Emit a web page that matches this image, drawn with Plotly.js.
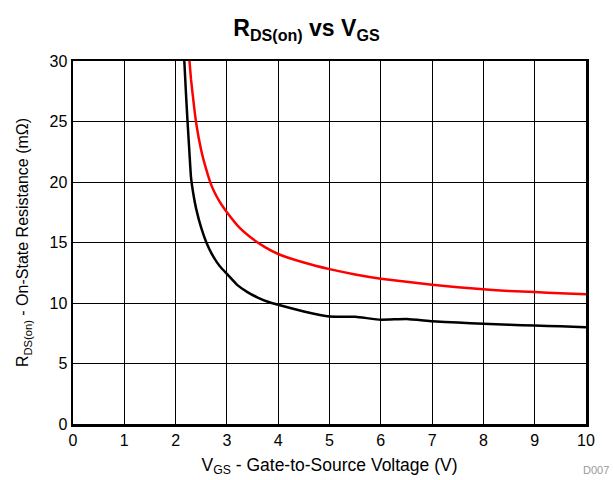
<!DOCTYPE html>
<html>
<head>
<meta charset="utf-8">
<script src="https://cdn.plot.ly/plotly-3.0.1.min.js"></script>
<style>html,body{margin:0;padding:0;background:#fff;}#chart{width:613px;height:480px;}</style>
</head>
<body>
<div id="chart"></div>
<script>
// Black curve (lower)
const vgsLow = [2.17, 2.2, 2.23, 2.27, 2.3, 2.35, 2.4, 2.5, 2.6, 2.7, 2.8, 2.9, 3.0, 3.2, 3.4, 3.6, 3.8, 4.0, 4.5, 5.0, 5.5, 6.0, 6.5, 7.0, 7.5, 8.0, 8.5, 9.0, 9.5, 10];
const rdsLow = [30, 27.5, 25.2, 22.4, 20.4, 18.9, 17.8, 16.2, 15.0, 14.1, 13.4, 12.85, 12.4, 11.5, 10.9, 10.45, 10.1, 9.85, 9.3, 8.88, 8.86, 8.62, 8.68, 8.5, 8.38, 8.28, 8.2, 8.14, 8.07, 8.0];
// Red curve (upper)
const vgsHigh = [2.27, 2.3, 2.35, 2.4, 2.5, 2.6, 2.7, 2.8, 2.9, 3.0, 3.25, 3.5, 3.75, 4.0, 4.5, 5.0, 5.5, 6.0, 6.5, 7.0, 7.5, 8.0, 8.5, 9.0, 9.5, 10];
const rdsHigh = [30, 28.5, 26.6, 24.9, 22.6, 21.0, 19.7, 18.8, 18.1, 17.5, 16.2, 15.3, 14.6, 14.05, 13.35, 12.8, 12.35, 12.0, 11.75, 11.5, 11.3, 11.13, 11.0, 10.9, 10.8, 10.72];

const xTicks = [0,1,2,3,4,5,6,7,8,9,10];
const yTicks = [0,5,10,15,20,25,30];

const font = {family: 'Liberation Sans, Arial, sans-serif', color: '#000'};

const traces = [
  {x: vgsHigh, y: rdsHigh, mode: 'lines', line: {color: '#ff0000', width: 2.5, shape: 'spline', smoothing: 0.4}, showlegend: false, hoverinfo: 'none'},
  {x: vgsLow, y: rdsLow, mode: 'lines', line: {color: '#000000', width: 2.5, shape: 'spline', smoothing: 0.4}, showlegend: false, hoverinfo: 'none'}
];

const layout = {
  width: 613, height: 480,
  margin: {l: 73, r: 27, t: 61, b: 56},
  paper_bgcolor: '#fff', plot_bgcolor: '#fff',
  font: Object.assign({size: 16}, font),
  title: {text: '<b>R<sub>DS(on)</sub> vs V<sub>GS</sub></b>', x: 0.5, xref: 'container', y: 0.942, yref: 'container', yanchor: 'middle', font: Object.assign({size: 23}, font)},
  xaxis: {
    range: [0, 10], tickvals: xTicks, ticktext: xTicks.map(String),
    showgrid: true, gridcolor: '#000', gridwidth: 1,
    showline: true, linecolor: '#000', linewidth: 2.5, mirror: true,
    ticks: '', zeroline: false, tickfont: Object.assign({size: 16}, font),
    title: {text: 'V<sub>GS</sub> - Gate-to-Source Voltage (V)', font: Object.assign({size: 17.5}, font), standoff: 11}
  },
  yaxis: {
    range: [0, 30], tickvals: yTicks, ticktext: yTicks.map(String),
    showgrid: true, gridcolor: '#000', gridwidth: 1,
    showline: true, linecolor: '#000', linewidth: 2.5, mirror: true,
    ticks: '', zeroline: false, tickfont: Object.assign({size: 16}, font),
    title: {text: 'R<sub>DS(on)</sub> - On-State Resistance (mΩ)', font: Object.assign({size: 16}, font), standoff: 17}
  },
  annotations: [
    {text: 'D007', xref: 'paper', yref: 'paper', x: 1.0, y: -0.105, xanchor: 'right', yanchor: 'top', xshift: 25, showarrow: false, font: Object.assign({}, font, {size: 11, color: '#999'})}
  ]
};

Plotly.newPlot('chart', traces, layout, {displayModeBar: false, staticPlot: true});
</script>
</body>
</html>
